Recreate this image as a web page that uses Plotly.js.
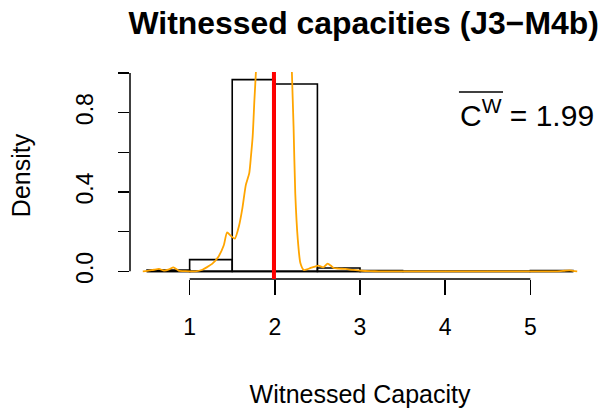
<!DOCTYPE html>
<html><head><meta charset="utf-8">
<script src="https://cdn.plot.ly/plotly-3.0.1.min.js"></script>
<style>html,body{margin:0;padding:0;background:#fff}#chart{width:599px;height:408px}</style>
</head><body><div id="chart"></div>
<script>
// ---- data ----
const binEdges = [0.5, 1.0, 1.5, 2.0, 2.5, 3.0, 3.5, 4.0, 4.5, 5.0, 5.5];
const binDensity = [0.006, 0.059, 0.966, 0.944, 0.017, 0.004, 0, 0, 0, 0.004];
const densityX = [0.45, 0.50, 0.58, 0.64, 0.70, 0.76, 0.81, 0.87, 0.95, 1.07, 1.15, 1.20, 1.27, 1.34, 1.40, 1.44, 1.48, 1.53, 1.58, 1.62, 1.66, 1.70, 1.72, 1.74, 1.76, 1.78, 1.80, 1.85, 1.90, 1.95, 2.00, 2.05, 2.10, 2.15, 2.19, 2.20, 2.22, 2.24, 2.27, 2.30, 2.34, 2.38, 2.42, 2.47, 2.51, 2.57, 2.62, 2.66, 2.69, 2.75, 2.83, 2.92, 3.02, 3.12, 3.22, 3.50, 4.00, 4.50, 5.00, 5.30, 5.40, 5.46, 5.50, 5.55];
const densityY = [0.000, 0.002, 0.008, 0.012, 0.004, 0.010, 0.020, 0.004, 0.001, 0.000, 0.008, 0.020, 0.040, 0.075, 0.130, 0.196, 0.180, 0.165, 0.230, 0.320, 0.436, 0.495, 0.580, 0.680, 0.860, 1.020, 1.250, 1.900, 2.600, 3.100, 3.200, 2.900, 2.200, 1.600, 1.150, 1.010, 0.730, 0.394, 0.160, 0.042, 0.007, 0.010, 0.017, 0.024, 0.029, 0.020, 0.039, 0.028, 0.017, 0.014, 0.012, 0.007, 0.003, 0.001, 0.000, 0.000, 0.000, 0.000, 0.000, 0.000, 0.003, 0.005, 0.002, 0.000];
const meanCW = 1.99;
const xTickVals = [1, 2, 3, 4, 5];
const xTickText = ["1", "2", "3", "4", "5"];
const yTickVals = [0, 0.4, 0.8];
const yTickText = ["0.0", "0.4", "0.8"];
const yMinorTickVals = [0.2, 0.6, 1.0];
const titleText = "Witnessed capacities (J3\u2212M4b)";
const xTitleText = "Witnessed Capacity";
const yTitleText = "Density";
const meanLabel = "C<sup>W</sup>\u00A0=\u00A0" + meanCW.toFixed(2);

// ---- derived ----
const binCenters = binDensity.map((_, i) => (binEdges[i] + binEdges[i + 1]) / 2);
const binWidths = binDensity.map((_, i) => binEdges[i + 1] - binEdges[i]);
const xLo = binEdges[0], xHi = binEdges[binEdges.length - 1];
const xPad = 0.04 * (xHi - xLo);
const yMax = Math.max(...binDensity);
const xRange = [xLo - xPad, xHi + xPad];
const yRange = [-0.04 * yMax, 1.04 * yMax];
const yAxisTop = Math.max(...yTickVals.concat(yMinorTickVals));

const FONT = "Liberation Sans, Arial, Helvetica, sans-serif";

const traces = [
  {type: 'bar', x: binCenters, y: binDensity, width: binWidths,
   marker: {color: 'rgba(255,255,255,0)', line: {color: '#000', width: 1.6}},
   hoverinfo: 'skip', showlegend: false},
  {type: 'scatter', mode: 'lines', x: [xLo, xHi], y: [0, 0],
   line: {color: '#000', width: 1.6}, hoverinfo: 'skip', showlegend: false},
  {type: 'scatter', mode: 'lines', x: densityX, y: densityY,
   line: {color: '#FFA500', width: 1.8, shape: 'spline', smoothing: 0.6}, hoverinfo: 'skip', showlegend: false}
];

const layout = {
  width: 599, height: 408,
  margin: {l: 130.4, r: 9.1, t: 71.8, b: 129.1, pad: 0},
  paper_bgcolor: '#fff', plot_bgcolor: '#fff',
  font: {family: FONT, color: '#000', size: 23},
  showlegend: false,
  bargap: 0,
  title: {text: '<b>' + titleText + '</b>', font: {family: FONT, size: 31.9, color: '#000'},
          x: 0.508, xref: 'paper', xanchor: 'center', y: 1 - 23 / 408, yref: 'container', yanchor: 'middle'},
  xaxis: {range: xRange, tickvals: xTickVals, ticktext: xTickText, ticks: 'outside', ticklen: 15,
          tickwidth: 1.5, tickcolor: '#000', showline: false, showgrid: false, zeroline: false,
          ticklabelstandoff: 12, tickfont: {size: 23, family: FONT, color: '#000'},
          title: {text: xTitleText, font: {size: 25, family: FONT, color: '#000'}, standoff: 46}},
  yaxis: {range: yRange, tickvals: yTickVals, ticktext: yTickText, ticks: 'outside', ticklen: 11,
          tickwidth: 1.5, tickcolor: '#000', showline: false, showgrid: false, zeroline: false,
          minor: {tickvals: yMinorTickVals, ticks: 'outside', ticklen: 11, tickwidth: 1.5, tickcolor: '#000', showgrid: false},
          tickangle: -90, ticklabelstandoff: 16, tickfont: {size: 23, family: FONT, color: '#000'},
          title: {text: yTitleText, font: {size: 25, family: FONT, color: '#000'}, standoff: 34}},
  shapes: [
    // x axis line (from first to last tick)
    {type: 'line', xref: 'x', yref: 'paper', x0: xTickVals[0], x1: xTickVals[xTickVals.length - 1], y0: 0, y1: 0,
     line: {color: '#000', width: 1.5}},
    // y axis line (from first to last tick)
    {type: 'line', xref: 'paper', yref: 'y', x0: 0, x1: 0, y0: yTickVals[0], y1: yAxisTop,
     line: {color: '#000', width: 1.5}},
    // mean line
    {type: 'line', xref: 'x', yref: 'paper', x0: meanCW, x1: meanCW, y0: 0, y1: 1,
     line: {color: '#FF0000', width: 4}},
    // overline of C^W
    {type: 'line', xref: 'paper', yref: 'paper', x0: (459 - 130.4) / 459.5, x1: (503 - 130.4) / 459.5,
     y0: (278.9 - 91.7) / 207.1, y1: (278.9 - 91.7) / 207.1, line: {color: '#000', width: 1.5}}
  ],
  annotations: [
    {text: meanLabel, xref: 'x', yref: 'y', x: 4.96, y: 0.8, xanchor: 'center', yanchor: 'middle',
     showarrow: false, font: {size: 30, family: FONT, color: '#000'}}
  ]
};

Plotly.newPlot('chart', traces, layout, {staticPlot: true, displayModeBar: false});
</script>
</body></html>
